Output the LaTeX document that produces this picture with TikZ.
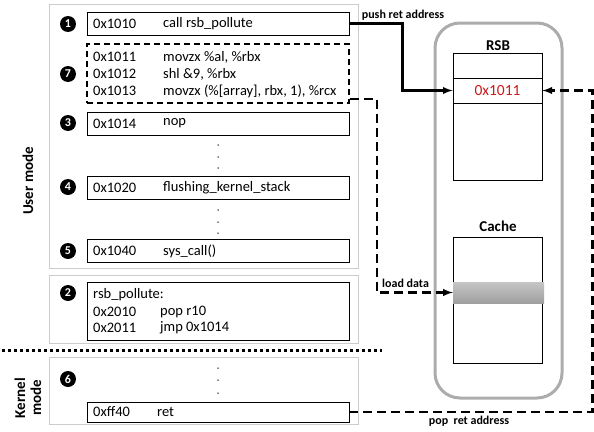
\documentclass[tikz,border=0pt]{standalone}
\usepackage{fontspec}
\setmainfont{Carlito}
\usepackage{tikz}
\definecolor{panelgray}{gray}{0.8}
\definecolor{addrred}{RGB}{205,25,25}

\begin{document}
\begin{tikzpicture}[x=1pt,y=-1pt,
	codebox/.style={draw, line width=0.9pt, minimum width=262, minimum height=23, inner sep=0},
	panel/.style={draw=panelgray, line width=0.9pt},
	code/.style={anchor=west, font=\fontsize{14.5}{17}\selectfont, inner sep=0},
	stepnum/.style={circle, fill=black, text=white, minimum size=16, inner sep=0, font=\fontsize{12}{12}\selectfont\bfseries},
	flowlabel/.style={font=\fontsize{12}{14}\selectfont\bfseries, inner sep=0},
	flow/.style={line width=2.3pt, dash pattern=on 9pt off 5pt},
	vdot/.style={circle, fill=black, inner sep=0, minimum size=1.5}]
	\useasboundingbox (0,0) rectangle (594,431);

	% PANELS
	\draw[panel] (49,4) rectangle (358,268);
	\draw[panel] (49,275) rectangle (358,343);
	\draw[panel] (49,357) rectangle (358,424);
	\draw[line width=3pt, dash pattern=on 3pt off 3pt] (2,350) -- (382,350);
	\node[rotate=90, font=\fontsize{15}{16}\selectfont\bfseries] (usermode) at (28,181) {User mode};
	\node[rotate=90, align=center, font=\fontsize{15}{16}\selectfont\bfseries] (kernelmode) at (28,398) {Kernel\\mode};

	% USER MODE CODE
	\node[codebox] (call) at (218,23.5) {};
	\node[codebox, minimum height=59, line width=1.5pt, dash pattern=on 6pt off 4pt] (gadget) at (218,73.5) {};
	\node[codebox] (nop) at (218,123.5) {};
	\node[codebox] (flush) at (218,187.5) {};
	\node[codebox] (syscall) at (218,251) {};

	\node[code] (a1) at (93,23.5) {0x1010};
	\node[code] (i1) at (163,23.5) {call rsb\_pollute};
	\node[code] (a7a) at (93,57) {0x1011};
	\node[code] (i7a) at (163,57) {movzx \%al, \%rbx};
	\node[code] (a7b) at (93,74) {0x1012};
	\node[code] (i7b) at (163,74) {shl \&9, \%rbx};
	\node[code] (a7c) at (93,91) {0x1013};
	\node[code] (i7c) at (163,91) {movzx (\%[array], rbx, 1), \%rcx};
	\node[code] (a3) at (93,123.5) {0x1014};
	\node[code] (i3) at (163,123.5) {nop};
	\node[code] (a4) at (93,187.5) {0x1020};
	\node[code] (i4) at (163,187.5) {flushing\_kernel\_stack};
	\node[code] (a5) at (93,251) {0x1040};
	\node[code] (i5) at (163,251) {sys\_call()};

	\foreach \y in {145,157,168,210,222,233,368,380,393}
		\node[vdot] (dot\y) at (218,\y) {};

	% RSB_POLLUTE
	\node[codebox, minimum height=58] (pollute) at (218,311) {};
	\node[code] (plabel) at (93,295) {rsb\_pollute:};
	\node[code] (a2a) at (93,312) {0x2010};
	\node[code] (i2a) at (160,312) {pop r10};
	\node[code] (a2b) at (93,328) {0x2011};
	\node[code] (i2b) at (160,328) {jmp 0x1014};

	% KERNEL MODE
	\node[codebox, minimum height=20] (ret) at (218,412) {};
	\node[code] (a6) at (93,412) {0xff40};
	\node[code] (i6) at (157,412) {ret};

	% STEP NUMBERS
	\node[stepnum] (s1) at (68,24) {1};
	\node[stepnum] (s7) at (68,74) {7};
	\node[stepnum] (s3) at (68,123) {3};
	\node[stepnum] (s4) at (68,187) {4};
	\node[stepnum] (s5) at (68,251) {5};
	\node[stepnum] (s2) at (68,293) {2};
	\node[stepnum] (s6) at (68,379) {6};

	% RSB AND CACHE
	\node[draw=gray!65, line width=3pt, rounded corners=25, minimum width=127, minimum height=375] (cpu) at (498.5,210.5) {};
	\node[font=\fontsize{15}{16}\selectfont\bfseries] (rsblabel) at (498,46) {RSB};
	\node[draw, line width=0.8pt, minimum width=89, minimum height=127] (rsb) at (497.5,116.5) {};
	\node[draw, line width=0.8pt, minimum width=89, minimum height=25, text=addrred, font=\fontsize{15.5}{17}\selectfont] (slot) at (497.5,90.5) {0x1011};
	\node[font=\fontsize{15}{16}\selectfont\bfseries] (cachelabel) at (498,226) {Cache};
	\node[draw, line width=0.8pt, minimum width=89, minimum height=126] (cache) at (497.5,300) {};
	\node[top color=gray!45, bottom color=gray!75, minimum width=91, minimum height=21, inner sep=0] (band) at (498.5,292.5) {};

	% FLOWS
	\draw[line width=2.2pt, -latex] (call.east) -- ++(53,0) |- (slot.west);
	\node[flowlabel] (pushlbl) at (403,15) {push ret address};
	\draw[flow, -latex] ([yshift=5pt]gadget.south east) -- ++(27,0) |- (band.west);
	\node[flowlabel, anchor=west] (loadlbl) at (382,283) {load data};
	\draw[flow, -latex] (ret.east) -- ++(243,0) |- (slot.east);
	\node[flowlabel] (poplbl) at (469,421) {pop\ \ ret address};
\end{tikzpicture}
\end{document}
